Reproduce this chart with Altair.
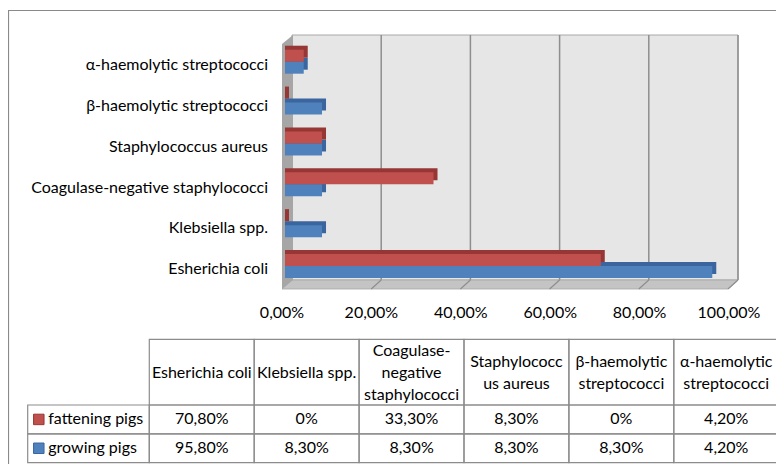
import altair as alt
import pandas as pd

# ---------------- data ----------------
categories = ["Esherichia coli", "Klebsiella spp.", "Coagulase-negative staphylococci",
              "Staphylococcus aureus", "β-haemolytic streptococci", "α-haemolytic streptococci"]
header_labels = ["Esherichia coli", "Klebsiella spp.", "Coagulase-\nnegative\nstaphylococci",
                 "Staphylococc\nus aureus", "β-haemolytic\nstreptococci", "α-haemolytic\nstreptococci"]
series = ["fattening pigs", "growing pigs"]
fattening = [70.8, 0, 33.3, 8.3, 0, 4.2]
growing = [95.8, 8.3, 8.3, 8.3, 8.3, 4.2]
ticks = [0, 20, 40, 60, 80, 100]


def pct(v, zero_plain=True):
    if v == 0 and zero_plain:
        return "0%"
    return f"{v:.2f}%".replace(".", ",")


rows = []
for s, vals in zip(series, [fattening, growing]):
    for c, v in zip(categories, vals):
        rows.append({"category": c, "series": s, "value": v, "label": pct(v)})
df = pd.DataFrame(rows)
cat_df = pd.DataFrame({"category": categories})

# header text split into lines; "slot" = line index relative to the block centre
hdr_rows = []
for c, h in zip(categories, header_labels):
    parts = h.split("\n")
    for i, p in enumerate(parts):
        hdr_rows.append({"category": c, "line": p, "slot": i - (len(parts) - 1) / 2})
hdr_df = pd.DataFrame(hdr_rows)

tick_df = pd.DataFrame({"tick": ticks, "label": [pct(t, zero_plain=False) for t in ticks]})
grid_df = pd.DataFrame({"tick": ticks[1:]})
depth_df = pd.DataFrame({"depth": [0, 1]})
one_df = pd.DataFrame({"k": [0]})
ser_df = pd.DataFrame({"series": series})

# ---------------- layout helpers ----------------
W, H = 768, 456
FONT = "Lato"
FS = 16
RED, BLUE = "#C0504D", "#4F81BD"
RED_D, BLUE_D = "#963735", "#3A659E"
chart_order = categories[::-1]
STEP = 40.86
C0 = 53.7


def xs(r0, r1):
    return alt.Scale(domain=[0, 100], range=[r0, r1], nice=False, zero=False)


def cat_scale(shift, band=12):
    p = 1 - band / STEP
    start = C0 - STEP / 2 + shift
    return alt.Scale(domain=chart_order, range=[start, start + 6 * STEP],
                     paddingInner=p, paddingOuter=p / 2)


bars_x = xs(277, 723)
back_x = xs(284, 730)
front_x = xs(274, 721)
depth_y = alt.Scale(domain=[0, 1], range=[281, 272], nice=False, zero=False)

layers = []

# outer chart border
layers.append(alt.Chart(one_df).mark_rect(filled=False, color="#8A8A8A", strokeWidth=1.2).encode(
    x=alt.value(0.5), x2=alt.value(W + 60), y=alt.value(2.5), y2=alt.value(H + 60)))

# back wall
layers.append(alt.Chart(one_df).mark_rect(fill="#E6E6E6", stroke="#A8A8A8", strokeWidth=1).encode(
    x=alt.XDatum(0, scale=back_x, axis=None), x2=alt.X2Datum(100),
    y=alt.value(27), y2=alt.value(272)))

# back wall gridlines
layers.append(alt.Chart(grid_df).mark_rule(color="#8E8E8E", strokeWidth=1.5).encode(
    x=alt.X("tick:Q", scale=back_x, axis=None), y=alt.value(27), y2=alt.value(272)))

# floor
layers.append(alt.Chart(depth_df).mark_area(orient="horizontal", color="#C4C4C4", x2Offset=446,
                                            stroke="#A6A6A6", strokeWidth=0.8).encode(
    y=alt.Y("depth:Q", scale=depth_y, axis=None),
    x=alt.X("depth:Q", scale=alt.Scale(domain=[0, 1], range=[274, 284], nice=False, zero=False), axis=None),
    x2=alt.X2("depth:Q")))

# floor gridlines
layers.append(alt.Chart(grid_df).mark_rule(color="#8E8E8E", strokeWidth=1.2, x2Offset=-10).encode(
    x=alt.X("tick:Q", scale=back_x, axis=None), x2=alt.X2("tick:Q"),
    y=alt.value(272), y2=alt.value(281)))

# left wall
layers.append(alt.Chart(depth_df).mark_area(orient="vertical", color="#A6A6A6", y2Offset=-245).encode(
    x=alt.X("depth:Q", scale=alt.Scale(domain=[0, 1], range=[274, 285], nice=False, zero=False), axis=None),
    y=alt.Y("depth:Q", scale=depth_y, axis=None),
    y2=alt.Y2("depth:Q")))

# bars (3D look: darker depth face behind the front face)
for s, col, dcol, shift in [("growing pigs", BLUE, BLUE_D, 6), ("fattening pigs", RED, RED_D, -6)]:
    sub = alt.Chart(df).transform_filter(alt.datum.series == s)
    layers.append(sub.mark_bar(color=dcol, xOffset=4).encode(
        y=alt.Y("category:N", scale=cat_scale(shift - 4), axis=None),
        x=alt.X("value:Q", scale=bars_x, axis=None, stack=None), x2=alt.X2Datum(0)))
    layers.append(sub.mark_bar(color=col).encode(
        y=alt.Y("category:N", scale=cat_scale(shift), axis=None),
        x=alt.X("value:Q", scale=bars_x, axis=None, stack=None), x2=alt.X2Datum(0)))

# category labels
layers.append(alt.Chart(cat_df).mark_text(align="right", baseline="middle", font=FONT, fontSize=FS,
                                          color="#000000").encode(
    y=alt.Y("category:N", scale=cat_scale(3.3), axis=None), x=alt.value(260), text="category:N"))

# x tick labels
layers.append(alt.Chart(tick_df).mark_text(align="center", baseline="alphabetic", font=FONT, fontSize=FS,
                                           color="#000000").encode(
    x=alt.X("tick:Q", scale=front_x, axis=None), y=alt.value(310), text="label:N"))

# ---------------- data table ----------------
tbl_x = alt.Scale(domain=categories, range=[141.3, 770.7], paddingInner=0, paddingOuter=0)
row_y = alt.Scale(domain=series, range=[397, 454.7], paddingInner=0, paddingOuter=0)
slot_y = alt.Scale(domain=[-1, 1], range=[342.7, 386.7], nice=False, zero=False)
GRID = "#8C8C8C"

layers.append(alt.Chart(cat_df).mark_rect(filled=False, color=GRID, strokeWidth=1.2).encode(
    x=alt.X("category:N", scale=tbl_x, axis=None), y=alt.value(331.3), y2=alt.value(397)))
layers.append(alt.Chart(hdr_df).mark_text(align="center", baseline="middle", font=FONT, fontSize=FS,
                                          color="#000000").encode(
    x=alt.X("category:N", scale=tbl_x, axis=None), y=alt.Y("slot:Q", scale=slot_y, axis=None),
    text="line:N"))

layers.append(alt.Chart(df).mark_rect(filled=False, color=GRID, strokeWidth=1.2).encode(
    x=alt.X("category:N", scale=tbl_x, axis=None), y=alt.Y("series:N", scale=row_y, axis=None)))
layers.append(alt.Chart(df).mark_text(align="center", baseline="middle", font=FONT, fontSize=FS,
                                      color="#000000").encode(
    x=alt.X("category:N", scale=tbl_x, axis=None), y=alt.Y("series:N", scale=row_y, axis=None),
    text="label:N"))

layers.append(alt.Chart(ser_df).mark_rect(filled=False, color=GRID, strokeWidth=1.2).encode(
    x=alt.value(19.7), x2=alt.value(141.3), y=alt.Y("series:N", scale=row_y, axis=None)))
layers.append(alt.Chart(ser_df).mark_point(shape="square", filled=True, size=110, strokeWidth=1,
                                           opacity=1).encode(
    x=alt.value(30.8), y=alt.Y("series:N", scale=row_y, axis=None),
    fill=alt.Fill("series:N", scale=alt.Scale(domain=series, range=[RED, BLUE]), legend=None),
    stroke=alt.Stroke("series:N", scale=alt.Scale(domain=series, range=[RED_D, BLUE_D]), legend=None)))
layers.append(alt.Chart(ser_df).mark_text(align="left", baseline="middle", font=FONT, fontSize=FS,
                                          color="#000000").encode(
    x=alt.value(40.3), y=alt.Y("series:N", scale=row_y, axis=None), text="series:N"))

chart = alt.layer(*layers).resolve_scale(
    x="independent", y="independent", fill="independent", stroke="independent"
).properties(
    width=W, height=H, padding=0, autosize=alt.AutoSizeParams(type="none")
).configure_view(strokeWidth=0)

chart.save("out.html", embed_options={"renderer": "svg", "actions": False})
